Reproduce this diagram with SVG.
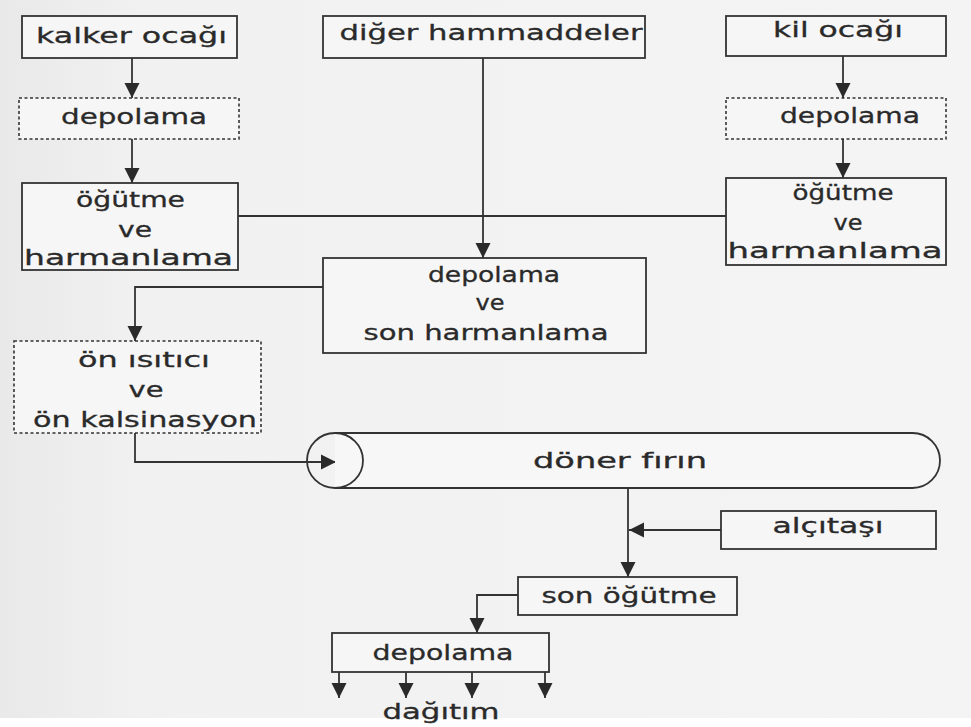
<svg xmlns="http://www.w3.org/2000/svg" width="971" height="727" viewBox="0 0 971 727">
<defs>
<linearGradient id="bg" x1="0" y1="0" x2="1" y2="0">
<stop offset="0" stop-color="#e9e9e9"/>
<stop offset="0.15" stop-color="#f1f1f1"/>
<stop offset="1" stop-color="#f4f4f4"/>
</linearGradient>
<marker id="ah" markerUnits="userSpaceOnUse" markerWidth="18" markerHeight="18" refX="15" refY="8" orient="auto">
<path d="M0,0.5 L15,8 L0,15.5 z" fill="#2a2a2a"/>
</marker>
<style>
.box{fill:#f6f6f6;stroke:#333;stroke-width:1.8}
.dash{fill:#f6f6f6;stroke:#333;stroke-width:1.6;stroke-dasharray:3 2.5}
.t{font-family:"DejaVu Sans","Liberation Sans",sans-serif;font-size:21px;fill:#2a2a2a;text-anchor:middle;stroke:#2a2a2a;stroke-width:0.3}
.c{fill:none;stroke:#333;stroke-width:1.8}
.a{marker-end:url(#ah)}
</style>
</defs>
<rect x="0" y="0" width="971" height="727" fill="#ffffff"/>
<rect x="0" y="0" width="971" height="718" fill="url(#bg)"/>

<g id="connectors">
<line class="c" x1="238" y1="216" x2="726" y2="216"/>
<line class="c a" x1="132" y1="58" x2="132" y2="98"/>
<line class="c a" x1="132" y1="139" x2="132" y2="183"/>
<line class="c a" x1="483" y1="58" x2="483" y2="258"/>
<line class="c a" x1="843" y1="56" x2="843" y2="98"/>
<line class="c a" x1="843" y1="139" x2="843" y2="178"/>
<path class="c a" d="M323,287 H135 V341"/>
<path class="c a" d="M135,433 V462 H336"/>
<line class="c a" x1="628" y1="488" x2="628" y2="577"/>
<line class="c a" x1="721" y1="530" x2="629" y2="530"/>
<path class="c a" d="M518,595 H477 V633"/>
<line class="c a" x1="339" y1="672" x2="339" y2="698"/>
<line class="c a" x1="406" y1="672" x2="406" y2="698"/>
<line class="c a" x1="472" y1="672" x2="472" y2="698"/>
<line class="c a" x1="545" y1="672" x2="545" y2="698"/>
</g>

<g id="kalker">
<rect class="box" x="22" y="16" width="215" height="42"/>
<text class="t" x="131.5" y="43" textLength="191" lengthAdjust="spacingAndGlyphs">kalker ocağı</text>
</g>
<g id="depolama-sol">
<rect class="dash" x="19" y="98" width="220" height="41"/>
<text class="t" x="134" y="124" textLength="146" lengthAdjust="spacingAndGlyphs">depolama</text>
</g>
<g id="ogutme-sol">
<rect class="box" x="22" y="183" width="216" height="87"/>
<text class="t" x="130.5" y="207" textLength="109" lengthAdjust="spacingAndGlyphs">öğütme</text>
<text class="t" x="135" y="237" textLength="34" lengthAdjust="spacingAndGlyphs">ve</text>
<text class="t" x="128.5" y="265" textLength="209" lengthAdjust="spacingAndGlyphs">harmanlama</text>
</g>

<g id="diger">
<rect class="box" x="323" y="16" width="322" height="42"/>
<text class="t" x="491" y="40" textLength="303" lengthAdjust="spacingAndGlyphs">diğer hammaddeler</text>
</g>
<g id="depolama-son">
<rect class="box" x="323" y="258" width="323" height="95"/>
<text class="t" x="494" y="282" textLength="132" lengthAdjust="spacingAndGlyphs">depolama</text>
<text class="t" x="490" y="310" textLength="29" lengthAdjust="spacingAndGlyphs">ve</text>
<text class="t" x="486" y="340" textLength="245" lengthAdjust="spacingAndGlyphs">son harmanlama</text>
</g>

<g id="kil">
<rect class="box" x="726" y="16" width="220" height="40"/>
<text class="t" x="838" y="37" textLength="130" lengthAdjust="spacingAndGlyphs">kil ocağı</text>
</g>
<g id="depolama-sag">
<rect class="dash" x="726" y="98" width="220" height="41"/>
<text class="t" x="850" y="123" textLength="140" lengthAdjust="spacingAndGlyphs">depolama</text>
</g>
<g id="ogutme-sag">
<rect class="box" x="726" y="178" width="220" height="87"/>
<text class="t" x="843" y="200" textLength="101" lengthAdjust="spacingAndGlyphs">öğütme</text>
<text class="t" x="848" y="230" textLength="29" lengthAdjust="spacingAndGlyphs">ve</text>
<text class="t" x="835" y="258" textLength="215" lengthAdjust="spacingAndGlyphs">harmanlama</text>
</g>

<g id="on-isitici">
<rect class="dash" x="14" y="341" width="247" height="92"/>
<text class="t" x="144" y="367" textLength="132" lengthAdjust="spacingAndGlyphs">ön ısıtıcı</text>
<text class="t" x="146" y="397" textLength="35" lengthAdjust="spacingAndGlyphs">ve</text>
<text class="t" x="145" y="427" textLength="224" lengthAdjust="spacingAndGlyphs">ön kalsinasyon</text>
</g>

<g id="doner-firin">
<path d="M335,433 H912.5 A27.5,27.5 0 0 1 912.5,488 H335 Z" fill="#f7f7f7" stroke="none"/>
<path class="c" d="M335,433 H912.5 A27.5,27.5 0 0 1 912.5,488 H335"/>
<ellipse cx="335" cy="460.5" rx="28" ry="27.5" fill="none" stroke="#333" stroke-width="1.8"/>
<text class="t" x="620" y="468" textLength="174" lengthAdjust="spacingAndGlyphs">döner fırın</text>
</g>

<g id="alcitasi">
<rect class="box" x="721" y="511" width="215" height="38"/>
<text class="t" x="828" y="533" textLength="111" lengthAdjust="spacingAndGlyphs">alçıtaşı</text>
</g>
<g id="son-ogutme">
<rect class="box" x="518" y="577" width="219" height="38"/>
<text class="t" x="629" y="603" textLength="175" lengthAdjust="spacingAndGlyphs">son öğütme</text>
</g>
<g id="depolama-alt">
<rect class="box" x="332" y="633" width="217" height="39"/>
<text class="t" x="443" y="660" textLength="141" lengthAdjust="spacingAndGlyphs">depolama</text>
</g>
<g id="dagitim">
<text class="t" x="441" y="719" textLength="117" lengthAdjust="spacingAndGlyphs">dağıtım</text>
</g>
</svg>
